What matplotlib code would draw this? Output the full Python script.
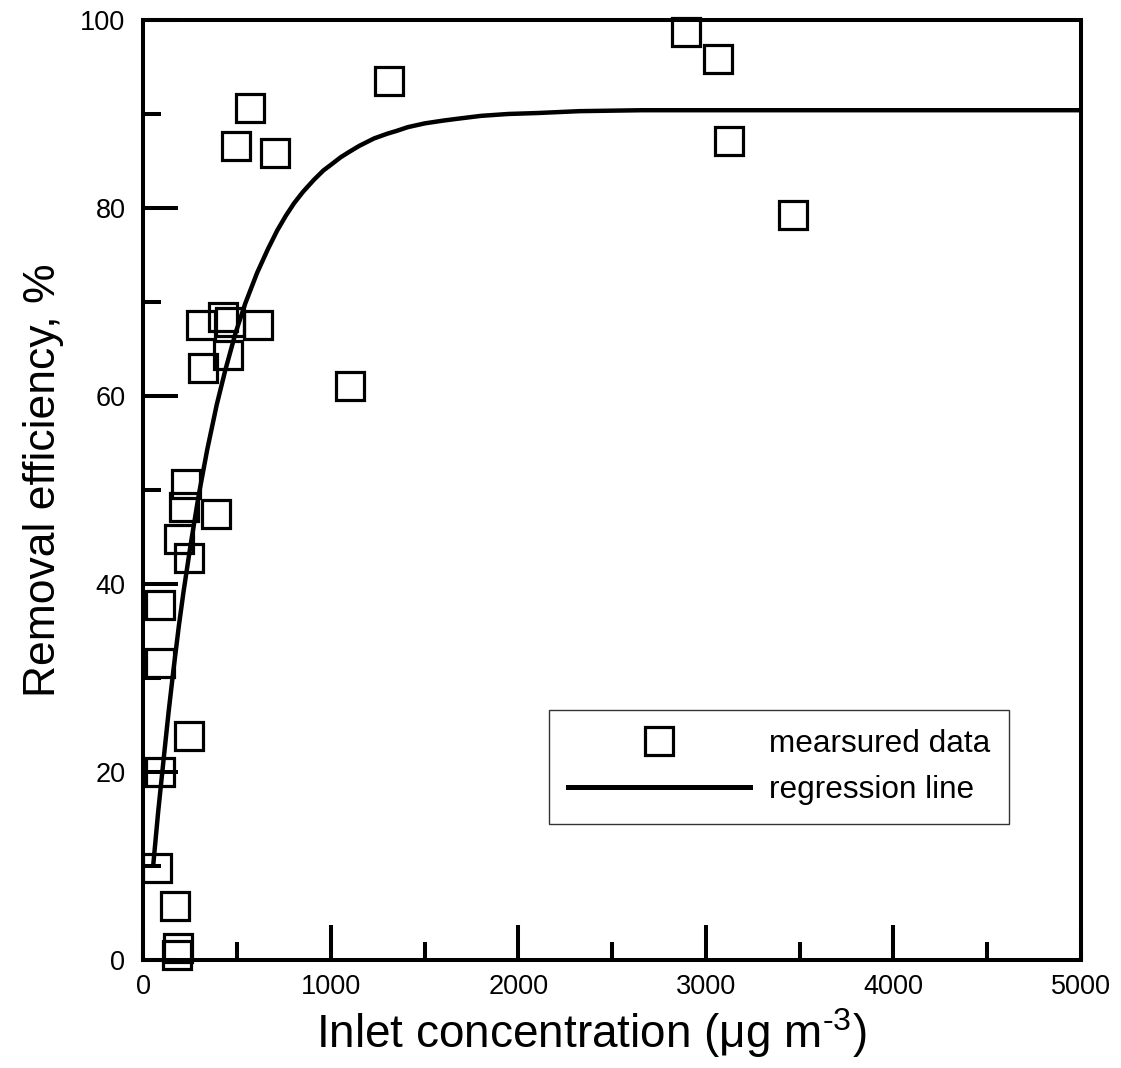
import matplotlib
matplotlib.use("Agg")
import matplotlib.pyplot as plt
from matplotlib import font_manager
from matplotlib.lines import Line2D

# ---------------- data ----------------
inlet_conc = [2893, 3066, 1308, 569, 495, 703, 3121, 3466, 1101,
              308, 425, 460, 613, 453, 315,
              226, 217, 388, 190, 244, 88, 88, 244,
              88, 71, 170, 186, 178]
efficiency = [98.7, 95.9, 93.5, 90.6, 86.6, 85.9, 87.1, 79.3, 61.1,
              67.6, 68.4, 67.9, 67.6, 64.4, 63.0,
              50.6, 48.2, 47.4, 44.8, 42.8, 37.8, 31.6, 23.8,
              20.0, 9.8, 5.7, 1.3, 0.5]

# regression line, points
reg_x = [52, 78, 106, 134, 160, 189, 213, 250, 294, 340, 391, 437, 491, 542,
         606, 663, 713, 760, 803, 850, 909, 960, 1000, 1052, 1100, 1150, 1230,
         1300, 1350, 1410, 1500, 1600, 1678, 1800, 1945, 2100, 2324, 2660, 5000]
reg_y = [10.1, 15.7, 21.1, 26.4, 30.9, 35.6, 39.1, 44.0, 49.4, 54.3, 59.1, 62.8,
         66.7, 69.8, 73.1, 75.6, 77.6, 79.2, 80.5, 81.7, 83.0, 84.0, 84.6, 85.4,
         86.0, 86.6, 87.4, 87.9, 88.2, 88.6, 89.0, 89.3, 89.5, 89.8, 90.0, 90.1,
         90.3, 90.4, 90.4]

x_ticks = [0, 1000, 2000, 3000, 4000, 5000]
y_ticks = [0, 20, 40, 60, 80, 100]
x_label = "Inlet concentration (μg m$^{\\mathregular{\u20103}}$)"
y_label = "Removal efficiency, %"
legend_labels = ["mearsured data", "regression line"]

# ---------------- fonts ----------------
names = {f.name for f in font_manager.fontManager.ttflist}
fam = "Liberation Sans" if "Liberation Sans" in names else "DejaVu Sans"
plt.rcParams["font.family"] = [fam, "DejaVu Sans"]
plt.rcParams["mathtext.fontset"] = "custom"
plt.rcParams["mathtext.rm"] = fam
plt.rcParams["mathtext.it"] = fam
plt.rcParams["mathtext.bf"] = fam
plt.rcParams["axes.unicode_minus"] = False

tick_fs = 19.5
ylabel_fs = 32
xlabel_fs = 33
legend_fs = 22.7

# ---------------- figure ----------------
fig = plt.figure(figsize=(11.21, 10.68), dpi=100)
ax = fig.add_axes([0.128, 0.1011, 0.8363, 0.8802])

ax.plot(reg_x, reg_y, color="black", lw=3.2, solid_capstyle="butt", zorder=2)
ax.plot(inlet_conc, efficiency, linestyle="none", marker="s", ms=20,
        mfc="none", mec="black", mew=2.3, zorder=3, clip_on=False)

ax.set_xlim(0, 5000)
ax.set_ylim(0, 100)
ax.set_xticks(x_ticks)
ax.set_yticks(y_ticks)
ax.set_xticks([500, 1500, 2500, 3500, 4500], minor=True)
ax.set_yticks([10, 30, 50, 70, 90], minor=True)
ax.tick_params(which="major", direction="in", length=25, width=2.9,
               labelsize=tick_fs, top=False, right=False)
ax.tick_params(which="minor", direction="in", length=13, width=2.9,
               top=False, right=False)
ax.tick_params(axis="x", which="major", pad=10)
ax.tick_params(axis="y", which="major", pad=13)
for s in ax.spines.values():
    s.set_linewidth(2.9)

ax.set_xlabel(x_label, fontsize=xlabel_fs)
ax.set_ylabel(y_label, fontsize=ylabel_fs)
ax.xaxis.set_label_coords(0.4773, -0.049)
ax.yaxis.set_label_coords(-0.0852, 0.5106)

handles = [Line2D([], [], linestyle="none", marker="s", ms=20, mfc="none",
                  mec="black", mew=2.3),
           Line2D([], [], color="black", lw=3.6)]
leg = ax.legend(handles, legend_labels, loc="upper left",
                bbox_to_anchor=(0.4325, 0.266), bbox_transform=ax.transAxes,
                borderaxespad=0, fontsize=legend_fs, handlelength=5.78,
                handletextpad=0.6, labelspacing=0.5, borderpad=0.6,
                fancybox=False, frameon=True, edgecolor="black")
leg.get_frame().set_linewidth(1.0)

fig.savefig("out.png", dpi=100, facecolor="white")
